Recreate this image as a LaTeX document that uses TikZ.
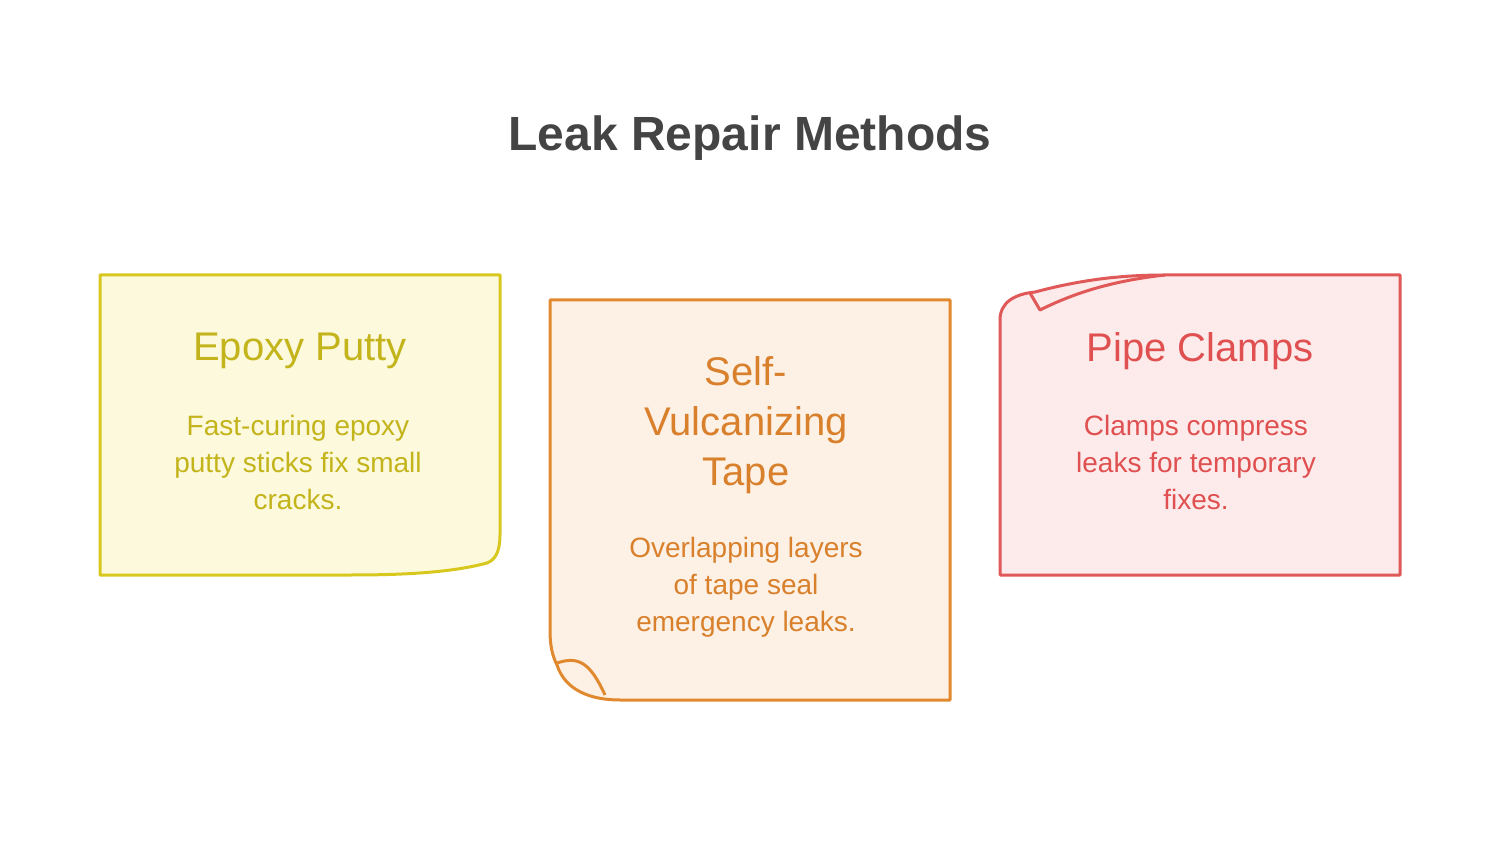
\documentclass[tikz,border=0pt]{standalone}
\usepackage{fontspec}
\setmainfont{Liberation Sans}
\definecolor{ys}{HTML}{D8C81E}\definecolor{yf}{HTML}{FCF9DC}\definecolor{yt}{HTML}{C4B41C}
\definecolor{os}{HTML}{E0892E}\definecolor{of}{HTML}{FDF0E4}\definecolor{ot}{HTML}{D9802C}
\definecolor{rs}{HTML}{E05858}\definecolor{rf}{HTML}{FDEAEA}\definecolor{rt}{HTML}{E05050}
\definecolor{tt}{HTML}{444444}
\begin{document}
\begin{tikzpicture}[x=0.5pt,y=-0.5pt,
  card/.style={line width=1.5pt,line join=round},
  head/.style={font=\fontsize{20}{25}\selectfont,align=center},
  body/.style={font=\fontsize{14}{18.5}\selectfont,align=center}]
\useasboundingbox (0,0) rectangle (1500,850);
\node[font=\bfseries\fontsize{24}{29}\selectfont,text=tt] (title) at (750,138) {Leak Repair Methods};
% card 1
\draw[card,draw=ys,fill=yf] (100,275)--(500,275)--(500,535) .. controls (500,552) and (495,560) .. (487,563) .. controls (450,573) and (400,575) .. (350,575) -- (100,575) -- cycle;
\node[head,text=yt] (h1) at (300,351) {Epoxy Putty};
\node[body,text=yt] (b1) at (298,462) {Fast-curing epoxy\\putty sticks fix small\\cracks.};
% card 2
\draw[card,draw=os,fill=of] (550,300)--(950,300)--(950,700)--(620,700) .. controls (590,700) and (565,690) .. (557,665) .. controls (552,655) and (550,645) .. (550,630) -- cycle;
\draw[card,draw=os] (557,663) .. controls (578,656) and (590,662) .. (605,695);
\node[head,text=ot] (h2) at (746,425) {Self-\\Vulcanizing\\Tape};
\node[body,text=ot] (b2) at (746,587) {Overlapping layers\\of tape seal\\emergency leaks.};
% card 3
\draw[card,draw=rs,fill=rf] (1400,275)--(1400,575)--(1000,575)--(1000,320) .. controls (1000,302) and (1015,294) .. (1035,292) .. controls (1080,280) and (1120,275) .. (1165,275) -- cycle;
\draw[card,draw=rs] (1030,293) -- (1040,310) .. controls (1080,290) and (1120,280) .. (1165,275);
\node[head,text=rt] (h3) at (1200,351) {Pipe Clamps};
\node[body,text=rt] (b3) at (1196,462) {Clamps compress\\leaks for temporary\\fixes.};
\end{tikzpicture}
\end{document}
